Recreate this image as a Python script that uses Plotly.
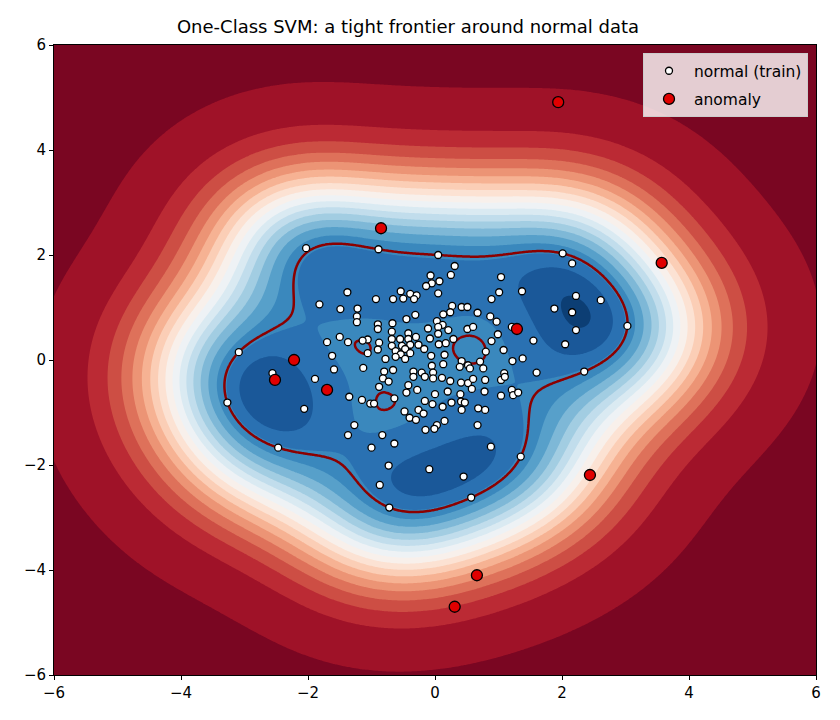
import numpy as np
import plotly.graph_objects as go

# ---------------- data ----------------
normal_x = [
    -2.03, -1.38, -1.82, -1.49, -1.50, -1.37, -1.70, -1.62, -1.59, -3.09, -2.56,
    -0.89, 0.05, 0.31, 0.25, -0.07, 0.07, -0.05, -0.14, -0.54, 0.05, -0.39, -0.29,
    -0.93, -0.66, -0.50, -0.33, 0.89, 0.27, 0.42, 0.51, -1.22, 0.24, 0.13, 0.67,
    -0.31, -0.45, 0.87, -1.23, -1.23, -0.90, -0.67, 0.03, 0.12, 0.05, -0.11, 0.21,
    0.51, 0.60, -0.90, -0.68, -0.42, -0.30, 0.05, -0.08, 0.06, 0.17, -0.68, -0.55,
    -0.42, 0.29, -1.06, -1.14, -0.88, -0.68, -0.52, -0.39, -0.26, -0.17, -0.47,
    -0.90, -1.06, -0.62, -0.54, -0.39, -0.47, -0.78, -0.62, -0.06, 0.15, 0.80, 0.89,
    -0.05, 0.13, -1.13, -0.80, -0.66, -0.34, -0.21, -0.03, 0.42, 0.52, 0.55, 0.71,
    0.76, 0.39,
    2.01, 2.16, 1.04, 1.01, 1.37, 2.22, 2.61, 1.88, 2.16, 0.97, 2.22, 3.03, 1.21,
    0.99, 1.55, 2.05, 1.08, 1.38, 1.22, 1.60, 2.35, 1.09,
    1.04, 1.10, 1.04, 1.21, 1.23, 1.31, 1.35,
    -1.89, -1.35, -2.06, -1.27, -1.37, -3.27, -2.47,
    -0.82, -0.73, -0.88, -0.42, -0.45, -0.28, -0.34, -0.16, -0.03, 0.11, 0.24, 0.41,
    0.52, 0.60, 0.79, 0.58, 0.78, 0.40, 0.20, 0.00, -1.15, -1.02, -0.96, -0.64,
    -0.16, -0.04, 0.12, 0.26, 0.41, 0.47, 0.42, 0.68, 0.79, -0.48, -0.26, -0.18,
    -0.40, -0.30, 0.15, 0.03, -0.01, -0.15, 0.67, -0.83, -1.00, -0.64, 0.88, -0.73,
    -0.09, 0.45, -0.87, 0.57, -0.72,
]
normal_y = [
    2.13, 1.29, 1.06, 0.97, 0.44, 0.34, 0.34, 0.08, -0.18, 0.15, -0.25,
    2.11, 2.00, 1.79, 1.62, 1.61, 1.50, 1.46, 1.41, 1.31, 1.27, 1.26, 1.23,
    1.16, 1.16, 1.17, 1.16, 1.16, 1.03, 1.01, 1.01, 0.98, 0.91, 0.87, 0.90,
    0.86, 0.78, 0.83, 0.83, 0.72, 0.68, 0.70, 0.74, 0.67, 0.63, 0.60, 0.57,
    0.59, 0.63, 0.59, 0.54, 0.51, 0.44, 0.50, 0.41, 0.30, 0.32, 0.40, 0.40,
    0.40, 0.40, 0.39, 0.37, 0.33, 0.27, 0.27, 0.29, 0.29, 0.21, 0.21,
    0.20, 0.13, 0.17, 0.11, 0.13, 0.02, 0.02, 0.06, 0.08, 0.10, 0.16, 0.36,
    -0.11, -0.08, -0.15, -0.22, -0.19, -0.22, -0.24, -0.24, -0.02, -0.10, -0.16, -0.03,
    -0.16, -0.13,
    2.03, 1.84, 1.58, 1.29, 1.31, 1.22, 1.14, 0.98, 0.91, 0.73, 0.57, 0.65, 0.63,
    0.49, 0.37, 0.30, 0.19, 0.03, -0.02, -0.24, -0.22, -0.25,
    -0.38, -0.32, -0.68, -0.57, -0.67, -0.62, -1.84,
    -0.36, -0.70, -0.93, -1.24, -1.43, -0.81, -1.67,
    -0.35, -0.41, -0.51, -0.48, -0.62, -0.57, -0.32, -0.32, -0.35, -0.34, -0.40, -0.43,
    -0.44, -0.36, -0.38, -0.55, -0.60, -0.65, -0.60, -0.65, -0.76, -0.83, -0.83, -0.73,
    -0.78, -0.84, -0.89, -0.81, -0.79, -0.81, -0.95, -0.92, -0.95, -0.98, -0.95, -1.02,
    -1.10, -1.14, -1.16, -1.24, -1.31, -1.33, -1.24, -1.43, -1.67, -1.59, -1.65, -2.01,
    -2.08, -2.22, -2.38, -2.62, -2.81,
]
anomaly_x = [1.94, -0.85, 3.57, 1.29, -2.22, -2.52, -1.70, 2.44, 0.66, 0.31]
anomaly_y = [4.91, 2.51, 1.85, 0.59, 0.00, -0.38, -0.57, -2.19, -4.10, -4.70]

svm_nu = 0.05
svm_gamma = 0.45
axis_ticks = [-6, -4, -2, 0, 2, 4, 6]
n_bands = 20

# ---------------- One-Class SVM (RBF) fitted on the normal points ----------------
X = np.column_stack([normal_x, normal_y]).astype(float)
n = len(X)


def rbf(A, B, g):
    d2 = ((A[:, None, :] - B[None, :, :]) ** 2).sum(-1)
    return np.exp(-g * d2)


Q = rbf(X, X, svm_gamma)
alpha = np.zeros(n)
k = int(svm_nu * n)
alpha[:k] = 1.0
if k < n:
    alpha[k] = svm_nu * n - k
G = Q @ alpha
for _ in range(200000):
    up = np.where(alpha < 1 - 1e-12)[0]
    lo = np.where(alpha > 1e-12)[0]
    i = up[np.argmin(G[up])]
    j = lo[np.argmax(G[lo])]
    if G[j] - G[i] < 1e-7:
        break
    den = max(Q[i, i] + Q[j, j] - 2 * Q[i, j], 1e-12)
    d = (G[j] - G[i]) / den
    d = min(d, 1 - alpha[i], alpha[j])
    alpha[i] += d
    alpha[j] -= d
    G += d * (Q[:, i] - Q[:, j])

free = (alpha > 1e-8) & (alpha < 1 - 1e-8)
if free.any():
    rho = G[free].mean()
else:
    rho = 0.5 * (G[alpha > 0.5].max() + G[alpha < 0.5].min())

gx = np.linspace(-6, 6, 400)
gy = np.linspace(-6, 6, 400)
Ex = np.exp(-svm_gamma * (gx[:, None] - X[None, :, 0]) ** 2)
Ey = np.exp(-svm_gamma * (gy[:, None] - X[None, :, 1]) ** 2)
Z = (Ey * alpha[None, :]) @ Ex.T - rho

# evenly spaced "round" filled levels: the outer levels overshoot the data range
zmin, zmax = float(Z.min()), float(Z.max())
step = (zmax - zmin) / 18.3
lev0 = zmin - 0.85 * step

# matplotlib RdBu, sampled at band centres
rdbu = np.array([
    (103, 0, 31), (178, 24, 43), (214, 96, 77), (244, 165, 130), (253, 219, 199),
    (247, 247, 247), (209, 229, 240), (146, 197, 222), (67, 147, 195), (33, 102, 172),
    (5, 48, 97)], float)


def rdbu_at(t):
    p = t * 10
    a = int(min(np.floor(p), 9))
    f = p - a
    c = rdbu[a] * (1 - f) + rdbu[a + 1] * f
    return "rgb(%d,%d,%d)" % tuple(np.round(c))


colorscale = [[b / (n_bands - 1), rdbu_at((b + 0.5) / n_bands)] for b in range(n_bands)]

fig = go.Figure()
fig.add_trace(go.Contour(
    x=gx, y=gy, z=Z,
    contours=dict(start=lev0 + step, end=lev0 + (n_bands - 1) * step, size=step,
                  coloring="fill", showlines=False),
    line=dict(width=0),
    colorscale=colorscale, showscale=False, hoverinfo="skip", showlegend=False,
))
fig.add_trace(go.Contour(
    x=gx, y=gy, z=Z,
    contours=dict(start=0, end=0, size=1, coloring="none"),
    line=dict(color="#8b0000", width=2.5),
    showscale=False, hoverinfo="skip", showlegend=False,
))
fig.add_trace(go.Scatter(
    x=normal_x, y=normal_y, mode="markers", name="normal (train)",
    legendgroup="a",
    marker=dict(size=7, color="white", line=dict(color="black", width=1.3)),
))
fig.add_trace(go.Scatter(
    x=anomaly_x, y=anomaly_y, mode="markers", name="anomaly",
    legendgroup="b",
    marker=dict(size=11, color="#e00000", line=dict(color="black", width=1.3)),
))

axis_common = dict(
    range=[-6, 6], tickvals=axis_ticks, ticks="outside", ticklen=4, tickwidth=1,
    tickcolor="black", showline=True, linecolor="black", linewidth=1, mirror=True,
    showgrid=False, zeroline=False, tickfont=dict(size=15, color="black"),
)
fig.update_xaxes(**axis_common)
fig.update_yaxes(**axis_common)
fig.update_layout(
    width=840, height=720,
    margin=dict(l=54, r=24, t=45, b=45),
    paper_bgcolor="white", plot_bgcolor="white",
    font=dict(family="DejaVu Sans", size=15, color="black"),
    title=dict(text="One-Class SVM: a tight frontier around normal data",
               x=408 / 840, xref="container", xanchor="center",
               y=0.9625, yanchor="middle",
               font=dict(size=18, color="black")),
    legend=dict(x=0.9895, y=0.987, xanchor="right", yanchor="top",
                traceorder="grouped", tracegroupgap=5, itemwidth=40,
                bgcolor="rgba(255,255,255,0.8)", bordercolor="#cccccc", borderwidth=1,
                font=dict(size=15.5)),
)
fig.write_html("out.html")
